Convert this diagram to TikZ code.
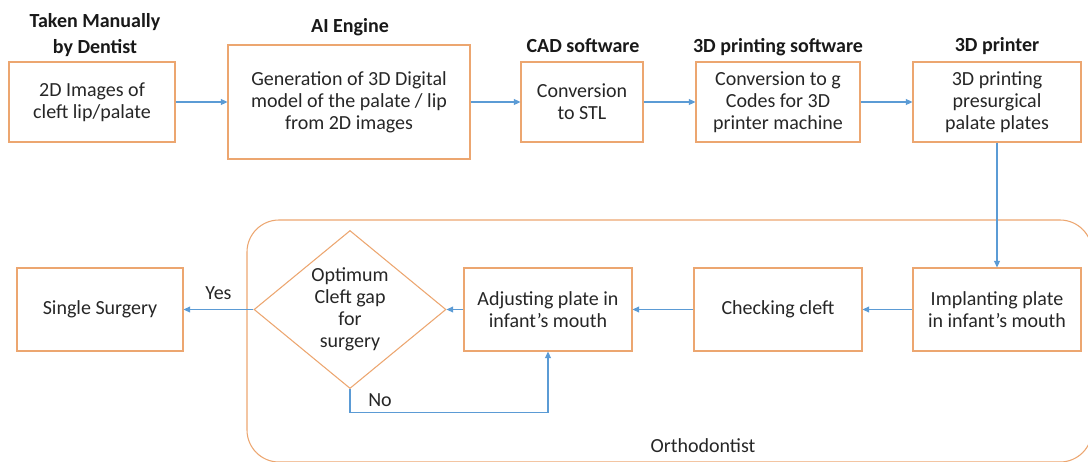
\documentclass[tikz,border=0pt]{standalone}
\usepackage{fontspec}
\setmainfont{Carlito}
\usetikzlibrary{arrows.meta,shapes.geometric}

\definecolor{boxorange}{RGB}{236,166,112}
\definecolor{flowblue}{RGB}{91,155,213}

\tikzset{
  stepbox/.style={draw=boxorange, line width=0.8pt, align=center, inner sep=2pt, text=black!85},
  decision/.style={diamond, draw=boxorange, line width=0.8pt, align=center, inner sep=0pt, text=black!85},
  flow/.style={draw=flowblue, line width=0.8pt, -{Triangle[length=5pt,width=4.5pt]}},
  header/.style={font=\bfseries\fontsize{15}{19}\selectfont, text=black!90},
  flowlabel/.style={text=black!85},
}

\begin{document}
\begin{tikzpicture}[x=0.75pt, y=-0.75pt, font=\fontsize{15}{16.5}\selectfont]
\useasboundingbox (0,0) rectangle (1088,461);

% orthodontist area behind the second row
\node[draw=boxorange, line width=0.8pt, rounded corners=24pt,
      minimum width=633.75pt, minimum height=181.5pt] (ortho) at (669.5,341) {};
\node[flowlabel, anchor=base] (orthotext) at (703,452) {Orthodontist};

% first row
\node[stepbox, minimum width=124.5pt, minimum height=60pt] (images) at (92,102)
  {2D Images of\\cleft lip/palate};
\node[stepbox, minimum width=181.5pt, minimum height=85.5pt] (aiengine) at (349,102)
  {Generation of 3D Digital\\model of the palate / lip\\from 2D images};
\node[stepbox, minimum width=91.5pt, minimum height=60pt] (cad) at (582,102)
  {Conversion\\to STL};
\node[stepbox, minimum width=123pt, minimum height=60pt] (slicer) at (778,102)
  {Conversion to g\\Codes for 3D\\printer machine};
\node[stepbox, minimum width=126pt, minimum height=60pt] (printer) at (997,102)
  {3D printing\\presurgical\\palate plates};

% headers
\node[header, align=center] (hdentist) at (95,35) {Taken Manually\\by Dentist};
\node[header, anchor=base] (hai) at (350,32) {AI Engine};
\node[header, anchor=base] (hcad) at (583,52) {CAD software};
\node[header, anchor=base] (hslicer) at (778,52) {3D printing software};
\node[header, anchor=base] (hprinter) at (997,51) {3D printer};

% second row
\node[stepbox, minimum width=126pt, minimum height=62.25pt] (implant) at (997,309.5)
  {Implanting plate\\in infant’s mouth};
\node[stepbox, minimum width=126pt, minimum height=62.25pt] (checking) at (778,309.5)
  {Checking cleft};
\node[stepbox, minimum width=126pt, minimum height=62.25pt] (adjusting) at (548,309.5)
  {Adjusting plate in\\infant’s mouth};
\node[decision, minimum width=144pt, minimum height=118.5pt, aspect=1.215] (gap) at (350,309.5)
  {Optimum\\Cleft gap\\for\\surgery};
\node[stepbox, minimum width=124.5pt, minimum height=62.25pt] (single) at (100,309.5)
  {Single Surgery};

% connectors
\draw[flow] (images) -- (aiengine);
\draw[flow] (aiengine) -- (cad);
\draw[flow] (cad) -- (slicer);
\draw[flow] (slicer) -- (printer);
\draw[flow] (printer) -- (implant);
\draw[flow] (implant) -- (checking);
\draw[flow] (checking) -- (adjusting);
\draw[flow] (adjusting) -- (gap);
\draw[flow] (gap.west) -- node[flowlabel, above=4pt] {Yes} (single.east);
\draw[flow] (gap.south) -- node[flowlabel, right=10pt] {No} ++(0,23) -| (adjusting.south);
\end{tikzpicture}
\end{document}
